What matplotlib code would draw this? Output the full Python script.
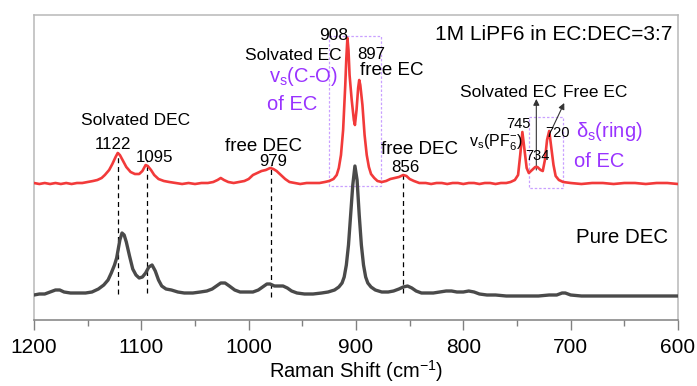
import matplotlib
matplotlib.use("Agg")
import matplotlib.pyplot as plt

plt.rcParams['font.family'] = ['Liberation Sans', 'DejaVu Sans']
plt.rcParams['mathtext.fontset'] = 'custom'
plt.rcParams['mathtext.rm'] = 'Liberation Sans'

# ---- data (Raman shift in cm-1, intensity in arbitrary offset units) ----
lipf6_shift = [1200, 1195, 1190, 1185, 1180, 1175, 1170, 1165, 1160, 1155, 1150, 1145, 1141, 1137,
               1134, 1130, 1127, 1124, 1122, 1120, 1117, 1114, 1110, 1106, 1102, 1099, 1096, 1094,
               1091, 1088, 1084, 1079, 1074, 1068, 1062, 1056, 1050, 1044, 1038, 1033, 1029, 1026,
               1023, 1019, 1014, 1009, 1004, 1000, 996, 992, 988, 984, 980, 977, 974, 970, 966, 962,
               957, 952, 946, 940, 934, 929, 925, 921, 918, 916, 914, 912, 910, 909, 908, 907, 906,
               904, 902, 901, 899.5, 898, 897, 896, 894, 892, 890, 888, 886, 883, 880, 876, 872, 868,
               864, 860, 856, 853, 850, 846, 841, 835, 830, 825, 820, 815, 810, 805, 800, 795, 790,
               785, 780, 775, 770, 765, 760, 756, 752, 749, 747, 745, 743, 741, 739, 736, 733, 731,
               728, 726, 724, 722, 720, 718, 716, 714, 711, 707, 700, 690, 680, 670, 660, 650, 640,
               630, 620, 610, 600]
lipf6_int = [137, 136, 137, 136, 137, 136, 137, 136, 137, 137, 138, 139, 140, 142,
             145, 150, 156, 163, 167, 165, 159, 153, 148, 146, 146, 149, 155, 154,
             150, 145, 141, 139, 138, 137, 136, 137, 136, 137, 137, 138, 140, 142,
             140, 138, 137, 138, 139, 141, 145, 147, 149, 150, 152, 151, 149, 145, 141, 138,
             137, 136, 137, 137, 137, 138, 139, 141, 145, 152, 165, 190, 235, 262, 282, 270, 245,
             220, 200, 195, 210, 232, 240, 235, 215, 185, 165, 153, 146, 142, 139, 138, 139, 141,
             142, 143, 145, 144, 141, 139, 137, 137, 136, 137, 137, 136, 137, 137, 136, 137, 137,
             136, 137, 137, 136, 137, 137, 138, 140, 145, 165, 188, 170, 152, 147, 150, 153, 153,
             150, 149, 160, 180, 189, 172, 155, 144, 140, 138, 137, 136, 137, 137, 136, 137, 137,
             136, 137, 137, 136]

dec_shift = [1200, 1195, 1190, 1185, 1180, 1176, 1172, 1166, 1160, 1152, 1146, 1140, 1135, 1131,
             1128, 1125, 1123, 1120, 1118, 1116, 1114, 1111, 1108, 1105, 1102, 1099, 1096, 1093,
             1090, 1087, 1084, 1081, 1077, 1072, 1066, 1060, 1052, 1045, 1039, 1034, 1030, 1026,
             1022, 1018, 1013, 1008, 1002, 996, 991, 987, 983, 980, 976, 972, 968, 964, 960, 955,
             948, 940, 932, 926, 920, 916, 913, 911, 909, 907, 905, 903, 901, 899, 897, 895, 893,
             891, 889, 886, 882, 876, 870, 865, 860, 856, 852, 848, 844, 839, 834, 828, 822, 816,
             811, 806, 800, 795, 790, 785, 778, 770, 760, 750, 740, 730, 720, 713, 708, 705, 700,
             690, 680, 670, 660, 650, 640, 630, 620, 610, 600]
dec_int = [25, 26, 26, 28, 30, 30, 28, 27, 27, 27, 28, 31, 35, 40,
           47, 55, 62, 80, 87, 85, 78, 64, 51, 45, 42, 43, 47, 53,
           55, 49, 40, 34, 31, 30, 28, 27, 27, 28, 29, 31, 34, 37,
           37, 34, 30, 28, 28, 28, 30, 33, 36, 36, 34, 34, 34, 32, 29, 27,
           26, 26, 27, 28, 30, 33, 37, 43, 55, 75, 105, 135, 154, 140, 105, 75, 55,
           43, 37, 33, 30, 28, 28, 29, 31, 33, 34, 32, 29, 27, 27, 27, 28, 29,
           29, 28, 28, 29, 28, 26, 25, 25, 24, 24, 24, 24, 25, 25, 27, 27, 25,
           24, 24, 24, 24, 24, 24, 24, 24, 24, 24]

xticks = [1200, 1100, 1000, 900, 800, 700, 600]
marker_shifts = [1122, 1095, 979, 856]
marker_tops = [168, 160, 155, 150]
marker_bottoms = [26, 27, 23, 27]

RED = '#f23a3a'
GREY = '#4a4a4a'
PURPLE = '#9933ff'
BOXC = '#c9a0ff'

fig = plt.figure(figsize=(6.97, 3.86), dpi=100)
ax = fig.add_axes([34/697, 66/386, 644/697, 305/386])

ax.plot(dec_shift, dec_int, color=GREY, lw=2.4, solid_joinstyle='round', zorder=3)
ax.plot(lipf6_shift, lipf6_int, color=RED, lw=1.9, solid_joinstyle='round', zorder=4)

for xs, yt, yb in zip(marker_shifts, marker_tops, marker_bottoms):
    ax.plot([xs, xs], [yb, yt], color='black', lw=0.9, ls=(0, (4, 3)), zorder=2)

# purple dotted boxes
ax.plot([925, 877, 877, 925, 925], [284, 284, 134, 134, 284], color=BOXC, lw=0.9, ls=(0, (2, 1.5)), zorder=1)
ax.plot([739, 707, 707, 739, 739], [203, 203, 132, 132, 203], color=BOXC, lw=0.9, ls=(0, (2, 1.5)), zorder=1)

# arrows
ax.annotate('', xy=(732, 221), xytext=(732, 150),
            arrowprops=dict(arrowstyle='-|>', color='#333333', lw=0.8, mutation_scale=9, shrinkA=0, shrinkB=0))
ax.annotate('', xy=(706, 217), xytext=(717, 192),
            arrowprops=dict(arrowstyle='-|>', color='#333333', lw=0.8, mutation_scale=9, shrinkA=0, shrinkB=0))

def t(x, y, s, size, color='black', ha='center'):
    ax.text(x, y, s, fontsize=size, color=color, ha=ha, va='baseline', zorder=6)

t(1105, 195, 'Solvated DEC', 12.5)
t(1126, 171, '1122', 12.2)
t(1088, 158, '1095', 12.2)
t(986, 169, 'free DEC', 13.5)
t(977, 154, '979', 12.2)
t(921, 280, '908', 12.5)
t(958, 260, 'Solvated EC', 12.5)
t(949, 238, r'v$_\mathregular{s}$(C-O)', 14.5, PURPLE)
t(959, 210, 'of EC', 14.5, PURPLE)
t(886, 261, '897', 12.2)
t(867, 245, 'free EC', 13.5)
t(841, 166, 'free DEC', 13.5)
t(854, 148, '856', 12.2)
t(770, 173, r'v$_\mathregular{s}$(PF$_\mathregular{6}^{\mathregular{-}}$)', 11.5)
t(749, 192, '745', 10.5)
t(731, 160, '734', 10.5)
t(712, 183, '720', 10.5)
t(664, 183, r'$\mathregular{\delta}_\mathregular{s}$(ring)', 14.5, PURPLE)
t(673, 153, 'of EC', 14.5, PURPLE)
t(758, 223, 'Solvated EC', 12.5)
t(677, 223, 'Free EC', 12.5)
t(716, 280, '1M LiPF6 in EC:DEC=3:7', 15)
t(652, 77, 'Pure DEC', 14.8)

ax.set_xlim(1200, 600)
ax.set_ylim(0, 305)
ax.set_xticks(xticks)
ax.set_xticks([1150, 1050, 950, 850, 750, 650], minor=True)
ax.set_yticks([])
ax.tick_params(axis='x', which='major', direction='out', length=7, width=1, color='#808080',
               labelsize=15, pad=6)
ax.tick_params(axis='x', which='minor', direction='out', length=4.5, width=1, color='#808080')
ax.set_xlabel(r'Raman Shift (cm$^\mathregular{-1}$)', fontsize=14.5, labelpad=1)

ax.spines['bottom'].set_color('#808080')
ax.spines['bottom'].set_linewidth(1.1)
for s in ['left', 'top', 'right']:
    ax.spines[s].set_color('#b8b8b8')
    ax.spines[s].set_linewidth(1.1)

fig.savefig('out.png', dpi=100)
